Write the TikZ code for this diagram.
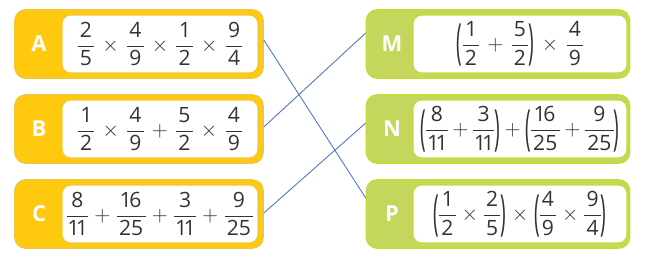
\documentclass[tikz,border=0pt]{standalone}
\usepackage{amsmath}
\usepackage{graphicx}
\usepackage{fontspec}
\setmainfont{Open Sans}[Numbers=Proportional]
\usetikzlibrary{positioning, calc}
\definecolor{matchYellow}{RGB}{255,201,14}
\definecolor{matchGold}{RGB}{240,199,58}
\definecolor{matchGreen}{RGB}{196,214,92}
\definecolor{matchLime}{RGB}{198,219,58}
\definecolor{matchInk}{RGB}{51,51,51}
\definecolor{matchLink}{RGB}{78,118,200}
\nulldelimiterspace=0pt
\medmuskip=7mu\relax
\newcommand{\fr}[2]{\dfrac{\mbox{\kern0.45mm#1\kern0.45mm}}{\mbox{\kern0.45mm#2\kern0.45mm}}}
\newcommand{\lpar}{\mathopen{\vcenter{\hbox{\scalebox{0.9}[2.3]{(}}}}}
\newcommand{\rpar}{\mathclose{\vcenter{\hbox{\scalebox{0.9}[2.3]{)}}}}}

\begin{document}
\begin{tikzpicture}[x=0.2mm, y=-0.2mm,
      leftbox/.style={rounded corners=6pt, fill=matchYellow, draw=matchGold, line width=0.9pt,
      minimum width=49.6mm, minimum height=13.6mm},
      rightbox/.style={rounded corners=6pt, fill=matchGreen, draw=matchLime, line width=0.9pt,
      minimum width=52.6mm, minimum height=13.6mm},
      leftexpr/.style={rounded corners=5pt, fill=white, draw=matchGold, line width=0.6pt, inner sep=0pt,
      minimum width=39.2mm, minimum height=11.6mm, text=matchInk, font=\fontsize{12}{14}\selectfont},
      rightexpr/.style={rounded corners=5pt, fill=white, draw=matchLime, line width=0.6pt, inner sep=0pt,
      minimum width=42.8mm, minimum height=11.6mm, text=matchInk, font=\fontsize{12}{14}\selectfont},
      letter/.style={text=white, font=\fontsize{12.5}{14}\selectfont\bfseries},
      link/.style={draw=matchLink, line width=0.5pt}
    ]
    \useasboundingbox (0,0) rectangle (650,254);

    % left column
    \node[leftbox] (boxA) at (139,44) {};
    \node[leftbox] (boxB) at (139,129) {};
    \node[leftbox] (boxC) at (139,214) {};
    \node[letter] (letA) at (39,44) {A};
    \node[letter] (letB) at (39,129) {B};
    \node[letter] (letC) at (39,214) {C};
    \node[leftexpr] (exprA) at (160,44) {$\fr{2}{5}\times\fr{4}{9}\times\fr{1}{2}\times\fr{9}{4}$};
    \node[leftexpr] (exprB) at (160,129) {$\fr{1}{2}\times\fr{4}{9}+\fr{5}{2}\times\fr{4}{9}$};
    \node[leftexpr] (exprC) at (160,214) {$\medmuskip=5.5mu\relax\fr{8}{11}+\fr{16}{25}+\fr{3}{11}+\fr{9}{25}$};

    % right column
    \node[rightbox] (boxM) at (498,44) {};
    \node[rightbox] (boxN) at (498,129) {};
    \node[rightbox] (boxP) at (498,214) {};
    \node[letter] (letM) at (392,44) {M};
    \node[letter] (letN) at (392,129) {N};
    \node[letter] (letP) at (392,214) {P};
    \node[rightexpr] (exprM) at (520,44) {$\lpar\fr{1}{2}+\fr{5}{2}\rpar\times\fr{4}{9}$};
    \node[rightexpr] (exprN) at (520,129) {$\medmuskip=4mu\relax\lpar\fr{8}{11}+\fr{3}{11}\rpar+\lpar\fr{16}{25}+\fr{9}{25}\rpar$};
    \node[rightexpr] (exprP) at (520,214) {$\medmuskip=5mu\relax\lpar\fr{1}{2}\times\fr{2}{5}\rpar\times\lpar\fr{4}{9}\times\fr{9}{4}\rpar$};

    % matching lines
    \draw[link] ($(boxA.east)+(0,-4)$) -- ($(boxP.west)+(0,-16)$);
    \draw[link] ($(boxB.east)+(0,-2)$) -- ($(boxM.west)+(0,-11)$);
    \draw[link] ($(boxC.east)+(0,-1)$) -- ($(boxN.west)+(0,-6)$);
  \end{tikzpicture}
\end{document}
